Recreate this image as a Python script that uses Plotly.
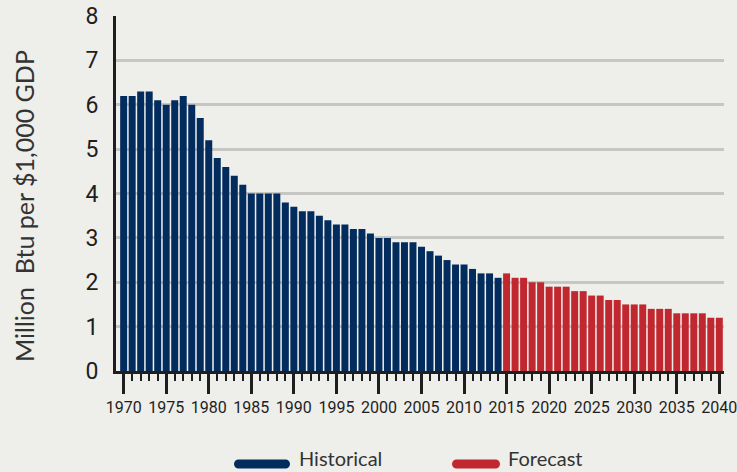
import plotly.graph_objects as go

# Energy intensity, million Btu per $1,000 of GDP
hist_years = list(range(1970, 2015))
hist_values = [6.2, 6.2, 6.3, 6.3, 6.1, 6.0, 6.1, 6.2, 6.0, 5.7,
               5.2, 4.8, 4.6, 4.4, 4.2, 4.0, 4.0, 4.0, 4.0, 3.8,
               3.7, 3.6, 3.6, 3.5, 3.4, 3.3, 3.3, 3.2, 3.2, 3.1,
               3.0, 3.0, 2.9, 2.9, 2.9, 2.8, 2.7, 2.6, 2.5, 2.4,
               2.4, 2.3, 2.2, 2.2, 2.1]
fcst_years = list(range(2015, 2041))
fcst_values = [2.2, 2.1, 2.1, 2.0, 2.0, 1.9, 1.9, 1.9, 1.8, 1.8,
               1.7, 1.7, 1.6, 1.6, 1.5, 1.5, 1.5, 1.4, 1.4, 1.4,
               1.3, 1.3, 1.3, 1.3, 1.2, 1.2]
x_tick_years = list(range(1970, 2041, 5))
y_ticks = list(range(0, 9))

NAVY = "#022b5e"
RED = "#c1272f"
BG = "#eeeeea"
INK = "#1e1e1e"
TEXT = "#333333"
NARROW = "Liberation Sans Narrow, Arial Narrow, Roboto, sans-serif"
HUMANIST = "Lato, Open Sans, sans-serif"

fig = go.Figure()
fig.add_trace(go.Bar(x=hist_years, y=hist_values, name="Historical",
                     marker=dict(color=NAVY, line=dict(width=0)), showlegend=False))
fig.add_trace(go.Bar(x=fcst_years, y=fcst_values, name="Forecast",
                     marker=dict(color=RED, line=dict(width=0)), showlegend=False))

W, H = 737, 472
L, R, T, B = 116, 13, 16, 101
plot_w = W - L - R
plot_h = H - T - B

fig.update_layout(
    width=W, height=H,
    margin=dict(l=L, r=R, t=T, b=B, pad=0, autoexpand=False),
    paper_bgcolor=BG, plot_bgcolor=BG,
    barmode="overlay", bargap=0.18,
    showlegend=False,
    xaxis=dict(
        range=[1969.1, 2040.55], automargin=False,
        tickmode="array", tickvals=x_tick_years, tickangle=0,
        ticklabeloverflow="allow",
        ticks="outside", ticklen=20, tickwidth=3, tickcolor=INK,
        showline=True, linecolor=INK, linewidth=3,
        showgrid=False, zeroline=False,
        tickfont=dict(family=NARROW, size=16, color=INK),
        minor=dict(dtick=1, tick0=1970, ticks="outside", ticklen=7,
                   tickwidth=1.5, tickcolor=INK, showgrid=False),
    ),
    yaxis=dict(
        range=[0, 8], automargin=False,
        tickmode="array", tickvals=y_ticks,
        ticks="", showline=True, linecolor=INK, linewidth=3,
        showgrid=True, gridcolor="#c6c6c4", gridwidth=2.5,
        zeroline=False, ticklabelstandoff=10,
        tickfont=dict(family=NARROW, size=23, color=INK),
    ),
)

# Vertical axis title
fig.add_annotation(
    text="Million  Btu per $1,000 GDP", textangle=-90,
    xref="paper", yref="paper", x=0, y=(371 - 206) / plot_h,
    xanchor="center", yanchor="middle", xshift=24 - L,
    showarrow=False, font=dict(family=HUMANIST, size=25, color=TEXT),
)

# Legend drawn as rounded bars with labels beneath the chart
def pill(x0, x1, yc, h, color):
    r = h / 2
    k = 0.55 * r
    path = (f"M{x0 + r},{yc - r} L{x1 - r},{yc - r} "
            f"C{x1 - r + k},{yc - r} {x1},{yc - k} {x1},{yc} "
            f"C{x1},{yc + k} {x1 - r + k},{yc + r} {x1 - r},{yc + r} "
            f"L{x0 + r},{yc + r} "
            f"C{x0 + r - k},{yc + r} {x0},{yc + k} {x0},{yc} "
            f"C{x0},{yc - k} {x0 + r - k},{yc - r} {x0 + r},{yc - r} Z")
    fig.add_shape(type="path", path=path, xref="paper", yref="paper",
                  xsizemode="pixel", ysizemode="pixel", xanchor=0, yanchor=0,
                  fillcolor=color, line=dict(width=0), layer="above")

legend_y = -(464 - 371)  # pixel offset below the plot bottom
pill(234 - L, 290 - L, legend_y, 9, NAVY)
pill(452 - L, 500 - L, legend_y, 9, RED)

for label, x_px in [("Historical", 297), ("Forecast", 506)]:
    fig.add_annotation(
        text=label, xref="paper", yref="paper",
        x=(x_px - L) / plot_w, y=(371 - 458) / plot_h,
        xanchor="left", yanchor="middle", showarrow=False,
        font=dict(family=HUMANIST, size=20, color=TEXT),
    )

fig.write_html("out.html")
